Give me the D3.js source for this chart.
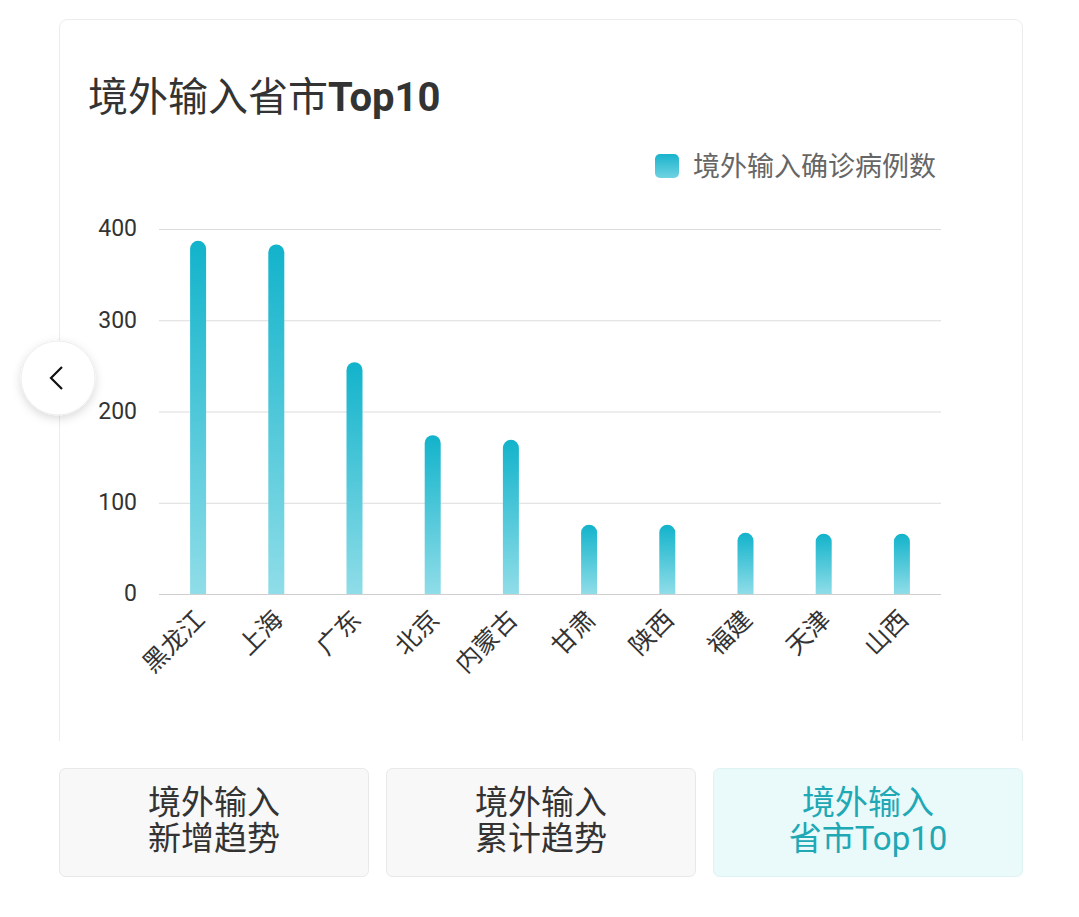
<!DOCTYPE html>
<html><head><meta charset="utf-8">
<script src="https://cdn.jsdelivr.net/npm/d3@7"></script>
<style>
html,body{margin:0;padding:0;background:#fff;}
svg{display:block;font-family:Roboto,"Noto Sans CJK SC",sans-serif;}
</style></head>
<body><svg id="c" width="1079" height="917"></svg>
<script>
const categories = ["黑龙江","上海","广东","北京","内蒙古","甘肃","陕西","福建","天津","山西"];
const values = [387, 383, 254, 174, 169, 76, 76, 67, 66, 66];
const yTicks = [0, 100, 200, 300, 400];
const seriesName = "境外输入确诊病例数";
const titleCn = "境外输入省市";
const titleEn = "Top10";
const buttons = [["境外输入","新增趋势"],["境外输入","累计趋势"],["境外输入","省市Top10"]];

const svg = d3.select("#c");
const defs = svg.append("defs");
const g1 = defs.append("linearGradient").attr("id","barGrad").attr("x1",0).attr("y1",0).attr("x2",0).attr("y2",1);
g1.append("stop").attr("offset","0%").attr("stop-color","#12b3cb");
g1.append("stop").attr("offset","100%").attr("stop-color","#8fdde8");
const g2 = defs.append("linearGradient").attr("id","legGrad").attr("x1",0).attr("y1",0).attr("x2",0).attr("y2",1);
g2.append("stop").attr("offset","0%").attr("stop-color","#19b3cc");
g2.append("stop").attr("offset","100%").attr("stop-color","#6fd3e2");
const f = defs.append("filter").attr("id","shadow").attr("x","-50%").attr("y","-50%").attr("width","200%").attr("height","200%");
f.append("feDropShadow").attr("dx",0).attr("dy",3).attr("stdDeviation",5).attr("flood-color","#000").attr("flood-opacity",0.15);

// card
svg.append("rect").attr("x",59.5).attr("y",19.5).attr("width",963).attr("height",740)
  .attr("rx",8).attr("fill","#fff").attr("stroke","#ececec");
svg.append("rect").attr("x",40).attr("y",741).attr("width",1000).attr("height",30).attr("fill","#fff");

// title
const t = svg.append("text").attr("x",88).attr("y",111).attr("fill","#333").attr("font-size",40);
t.append("tspan").attr("font-family","'Noto Sans CJK SC'").attr("font-weight",400).text(titleCn);
t.append("tspan").attr("font-weight",700).text(titleEn);

// scales
const x = d3.scaleBand().domain(categories).range([159, 941]);
const y = d3.scaleLinear().domain([0, 400]).range([594, 229]);

// grid
svg.append("g").selectAll("line").data(yTicks).join("line")
  .attr("x1",159).attr("x2",941).attr("y1",d=>y(d)+0.5).attr("y2",d=>y(d)+0.5)
  .attr("stroke",d=>d===0?"#cfcfcf":"#dcdcdc").attr("stroke-width",1);

// y labels
svg.append("g").selectAll("text").data(yTicks).join("text")
  .attr("x",137).attr("y",d=>y(d)-1).attr("dy","0.36em").attr("text-anchor","end")
  .attr("font-size",23).attr("fill","#333").text(d=>d);

// bars with rounded top
const bw = 16;
svg.append("g").selectAll("path").data(values).join("path")
  .attr("fill","url(#barGrad)")
  .attr("d",(d,i)=>{
    const cx = x(categories[i]) + x.bandwidth()/2;
    const x0 = cx - bw/2, x1 = cx + bw/2, top = y(d), bot = y(0), r = bw/2;
    return `M${x0},${bot}L${x0},${top+r}A${r},${r} 0 0 1 ${x1},${top+r}L${x1},${bot}Z`;
  });

// x labels
svg.append("g").selectAll("text").data(categories).join("text")
  .attr("transform",d=>`translate(${x(d)+x.bandwidth()/2-6},${607}) rotate(-45)`)
  .attr("text-anchor","end").attr("dy","0.8em")
  .attr("font-family","'Noto Sans CJK SC'")
  .attr("font-size",25).attr("fill","#333").text(d=>d);

// legend
svg.append("rect").attr("x",655).attr("y",154).attr("width",24).attr("height",24).attr("rx",5).attr("fill","url(#legGrad)");
svg.append("text").attr("x",693).attr("y",176).attr("font-family","'Noto Sans CJK SC'")
  .attr("font-size",27).attr("fill","#666").text(seriesName);

// left nav circle
svg.append("circle").attr("cx",58).attr("cy",378).attr("r",37).attr("fill","#fff").attr("stroke","#eee").attr("filter","url(#shadow)");
svg.append("path").attr("d","M62,367 L51,378 L62,389").attr("fill","none").attr("stroke","#111").attr("stroke-width",2.2);

// buttons
const bx = [59, 386, 713];
buttons.forEach((b,i)=>{
  const active = i===2;
  svg.append("rect").attr("x",bx[i]+0.5).attr("y",768.5).attr("width",309).attr("height",108).attr("rx",6)
    .attr("fill",active?"#eaf9fa":"#f8f8f8").attr("stroke",active?"#dff3f5":"#e8e8e8");
  b.forEach((line,j)=>{
    svg.append("text").attr("x",bx[i]+155).attr("y",814 + j*36).attr("text-anchor","middle")
      .attr("font-family","Roboto,'Noto Sans CJK SC'").attr("font-size",33)
      .attr("fill",active?"#20a8b4":"#333").text(line);
  });
});
</script></body></html>
